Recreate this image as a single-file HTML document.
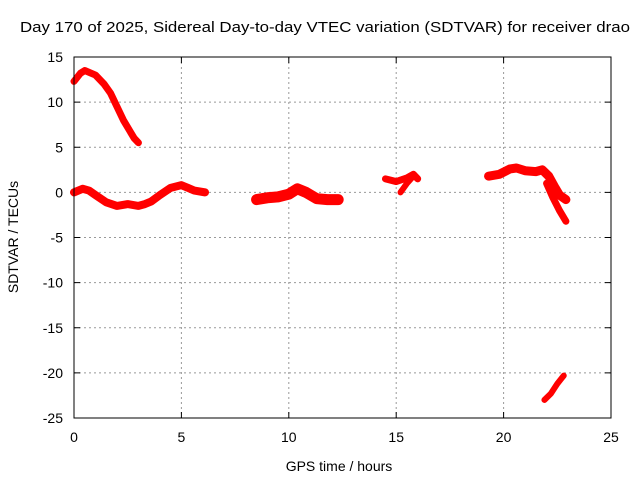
<!DOCTYPE html>
<html><head><meta charset="utf-8"><style>
body{margin:0;background:#fff}
svg{display:block;font-family:"Liberation Sans",sans-serif}
</style></head><body>
<svg width="640" height="480" id="chart">
<text x="325" y="32" font-size="15" text-anchor="middle" textLength="610" lengthAdjust="spacingAndGlyphs">Day 170 of 2025, Sidereal Day-to-day VTEC variation (SDTVAR) for receiver drao</text>
<g id="grid"></g><g id="series"></g>
<rect x="74" y="57" width="537" height="361" fill="none" stroke="#000"/>
<text x="339" y="471" font-size="14" text-anchor="middle">GPS time / hours</text>
<text x="18" y="237" font-size="14" text-anchor="middle" transform="rotate(-90 18 237)">SDTVAR / TECUs</text>
</svg>
<script>
const xTicks=[0,5,10,15,20,25];
const yTicks=[15,10,5,0,-5,-10,-15,-20,-25];
const seg1=[[0,12.3],[0.3,13.2],[0.5,13.5],[1,13],[1.4,12],[1.7,11],[2,9.5],[2.3,8],[2.6,6.8],[2.8,6],[3.0,5.5]];
const seg2=[[0,0],[0.4,0.4],[0.7,0.2],[1,-0.3],[1.5,-1.1],[2,-1.5],[2.5,-1.3],[3,-1.5],[3.3,-1.3],[3.6,-1],[4,-0.3],[4.5,0.5],[5,0.8],[5.3,0.5],[5.6,0.2],[6.1,0]];
const seg3=[[8.5,-0.8],[9,-0.6],[9.5,-0.5],[10,-0.2],[10.4,0.4],[10.8,0],[11.3,-0.7],[11.8,-0.8],[12.3,-0.8]];
const seg4=[[14.5,1.5],[15,1.2],[15.5,1.6],[15.8,2],[16,1.5]];
const seg4b=[[15.2,0],[15.5,1],[15.8,1.8]];
const seg5=[[19.3,1.8],[19.8,2],[20.3,2.6],[20.6,2.7],[21,2.4],[21.5,2.3],[21.8,2.5],[22.1,1.8],[22.4,0.5],[22.6,-0.3],[22.9,-0.8]];
const seg5b=[[22,1],[22.3,-0.6],[22.6,-2],[22.9,-3.2]];
const seg6=[[21.9,-23],[22.2,-22.3],[22.5,-21.2],[22.8,-20.3]];
const series=[seg1,seg2,seg3,seg4,seg4b,seg5,seg5b,seg6];
const widths=[7,8,11,7,6,9,7,6];
const X=v=>74+v*537/25, Y=v=>57+(15-v)*361/40;
const NS="http://www.w3.org/2000/svg";
const g=document.getElementById('grid'), s=document.getElementById('series');
function el(t,a,p){const e=document.createElementNS(NS,t);for(const k in a)e.setAttribute(k,a[k]);p.appendChild(e);return e;}
xTicks.forEach(v=>{const x=X(v);
 if(v>0&&v<25){const l=el('line',{x1:x,x2:x,y1:57,y2:418,stroke:'#999','stroke-dasharray':'2,3'},g);
 
 }
 el('line',{x1:x,x2:x,y1:418,y2:412,stroke:'#000'},g);el('line',{x1:x,x2:x,y1:57,y2:63,stroke:'#000'},g);
 const t=el('text',{x:x,y:442,'font-size':14,'text-anchor':'middle'},g);t.textContent=v;
 
 });
yTicks.forEach(v=>{const y=Y(v);
 if(v<15&&v>-25){const l=el('line',{x1:74,x2:611,y1:y,y2:y,stroke:'#999','stroke-dasharray':'2,3'},g);
 
 }
 el('line',{x1:74,x2:80,y1:y,y2:y,stroke:'#000'},g);el('line',{x1:605,x2:611,y1:y,y2:y,stroke:'#000'},g);
 const t=el('text',{x:63,y:y+5,'font-size':14,'text-anchor':'end'},g);t.textContent=v;
 
 });
series.forEach((d,i)=>{const p=el('polyline',{points:d.map(q=>X(q[0])+','+Y(q[1])).join(' '),fill:'none',stroke:'#f00','stroke-width':widths[i],'stroke-linejoin':'round','stroke-linecap':'round'},s);
 
 });
</script>
</body></html>
